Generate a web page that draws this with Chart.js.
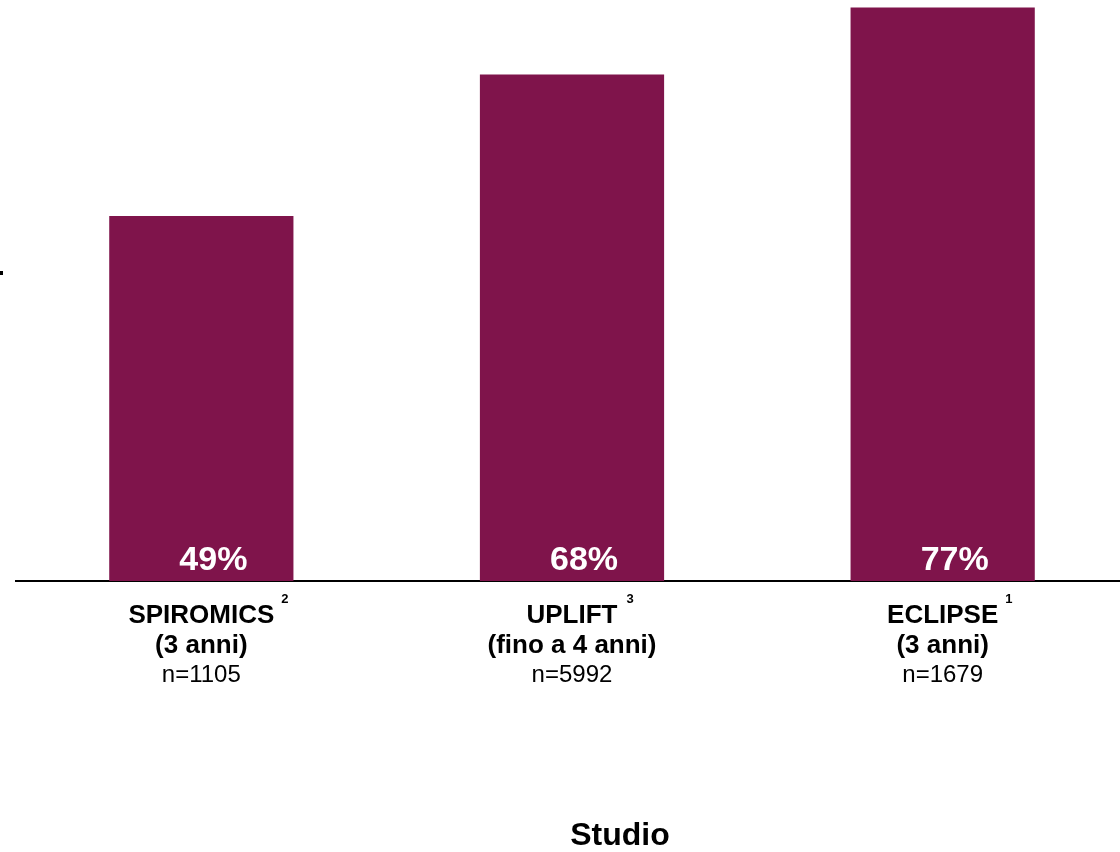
<!DOCTYPE html>
<html lang="it">
<head>
  <meta charset="UTF-8" />
  <title>Studio</title>
  <script src="https://cdn.jsdelivr.net/npm/chart.js"></script>
  <style>
    html, body { margin: 0; padding: 0; background: #fff; overflow: hidden; }
    #wrap { position: absolute; left: 0; top: 0; width: 1128px; height: 852px; }
  </style>
</head>
<body>
  <div id="wrap">
    <canvas id="chartStudi"></canvas>
  </div>

  <script>
    // Studies on the x axis, with reference number, duration and sample size
    const studies   = ['SPIROMICS', 'UPLIFT', 'ECLIPSE'];
    const refs      = ['2', '3', '1'];
    const durations = ['(3 anni)', '(fino a 4 anni)', '(3 anni)'];
    const sizes     = ['n=1105', 'n=5992', 'n=1679'];
    // Percentage per study
    const values    = [49, 68, 77];

    const barColor = '#7f144b';
    const FONT = '"Liberation Sans", Arial, sans-serif';

    // Category labels, bar values, axis title and the small left tick
    const labelsPlugin = {
      id: 'studyLabels',
      afterDraw(chart) {
        const ctx = chart.ctx;
        const xs = chart.scales.x;
        const ys = chart.scales.y;
        const base = ys.getPixelForValue(0);
        ctx.save();
        ctx.fillStyle = '#000';
        ctx.fillRect(0, 271, 3, 4);

        studies.forEach((name, i) => {
          const x = xs.getPixelForValue(i);

          // value inside the bar, near the bottom
          ctx.fillStyle = '#fff';
          ctx.font = 'bold 34px ' + FONT;
          ctx.textAlign = 'center';
          ctx.textBaseline = 'alphabetic';
          ctx.fillText(values[i] + '%', x + 12, base - 11);

          // study name with superscript reference
          ctx.fillStyle = '#000';
          ctx.font = 'bold 26px ' + FONT;
          ctx.fillText(name, x, 623);
          const w = ctx.measureText(name).width;
          ctx.font = 'bold 13px ' + FONT;
          ctx.textAlign = 'left';
          ctx.fillText(refs[i], x + w / 2 + (i === 1 ? 9 : 7), 603);

          ctx.textAlign = 'center';
          ctx.font = 'bold 26px ' + FONT;
          ctx.fillText(durations[i], x, 653);
          ctx.font = '24px ' + FONT;
          ctx.fillText(sizes[i], x, 682);
        });

        ctx.font = 'bold 32px ' + FONT;
        ctx.textAlign = 'center';
        ctx.fillText('Studio', 620, 845);
        ctx.restore();
      }
    };

    const ctxStudi = document.getElementById('chartStudi').getContext('2d');

    const chartStudi = new Chart(ctxStudi, {
      type: 'bar',
      data: {
        labels: studies,
        datasets: [
          {
            data: values,
            backgroundColor: barColor,
            borderWidth: 0,
            categoryPercentage: 1,
            barPercentage: 0.497
          }
        ]
      },
      options: {
        responsive: true,
        maintainAspectRatio: false,
        animation: false,
        layout: { padding: { left: 16, right: 0, top: 0, bottom: 271 } },
        plugins: {
          legend: { display: false },
          tooltip: { enabled: false }
        },
        scales: {
          x: {
            grid: { display: false, drawTicks: false },
            border: { display: true, color: '#000', width: 2 },
            ticks: { display: false }
          },
          y: {
            display: false,
            min: 0,
            max: 78
          }
        }
      },
      plugins: [labelsPlugin]
    });
  </script>
</body>
</html>
